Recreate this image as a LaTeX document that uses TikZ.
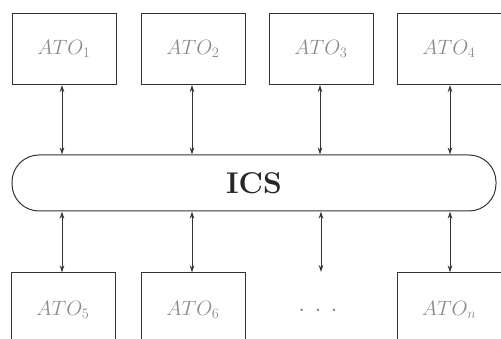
\documentclass[tikz,border=0pt]{standalone}
\usetikzlibrary{arrows.meta}
\begin{document}
\begin{tikzpicture}[x=1pt,y=-1pt,
  atobox/.style={draw=black!80, line width=1pt, minimum width=104pt, minimum height=71pt, inner sep=0pt, text=black!45, font=\fontsize{21}{24}\selectfont},
  link/.style={draw=black!80, line width=1pt, {Stealth[length=7pt,width=4.5pt]}-{Stealth[length=7pt,width=4.5pt]}}
]
\useasboundingbox (0,0) rectangle (501,339);
\clip (0,0) rectangle (501,339);
% top boxes
\node[atobox] (a1) at (64,49) {$ATO_1$};
\node[atobox] (a2) at (193,49) {$ATO_2$};
\node[atobox] (a3) at (321,49) {$ATO_3$};
\node[atobox] (a4) at (449,49) {$ATO_4$};
% bus
\node[draw=black!80, line width=1pt, rounded corners=27pt, minimum width=484pt, minimum height=56pt, inner sep=0pt, font=\fontsize{30}{34}\selectfont\bfseries, text=black!85] (ics) at (254,183) {ICS};
% bottom boxes
\node[atobox, minimum height=100pt] (a5) at (63,323) {};
\node[atobox, minimum height=100pt] (a6) at (193,323) {};
\node[atobox, minimum height=100pt] (an) at (449,323) {};
\node[text=black!45, font=\fontsize{21}{24}\selectfont] (t5) at (63,310) {$ATO_5$};
\node[text=black!45, font=\fontsize{21}{24}\selectfont] (t6) at (193,310) {$ATO_6$};
\node[text=black!45, font=\fontsize{21}{24}\selectfont] (tn) at (449,310) {$ATO_n$};
\node[text=black!60, font=\fontsize{20}{24}\selectfont] (dots) at (318,311) {$\cdot\;\cdot\;\cdot$};
\coordinate (dtop) at (321,272);
% links
\draw[link] (a1.south -| 62,0) -- (ics.north -| 62,0);
\draw[link] (a2.south -| 192,0) -- (ics.north -| 192,0);
\draw[link] (a3.south -| 320,0) -- (ics.north -| 320,0);
\draw[link] (a4.south -| 450,0) -- (ics.north -| 450,0);
\draw[link] (ics.south -| 62,0) -- (a5.north -| 62,0);
\draw[link] (ics.south -| 192,0) -- (a6.north -| 192,0);
\draw[link] (ics.south -| 321,0) -- (dtop);
\draw[link] (ics.south -| 450,0) -- (an.north -| 450,0);
\end{tikzpicture}
\end{document}
